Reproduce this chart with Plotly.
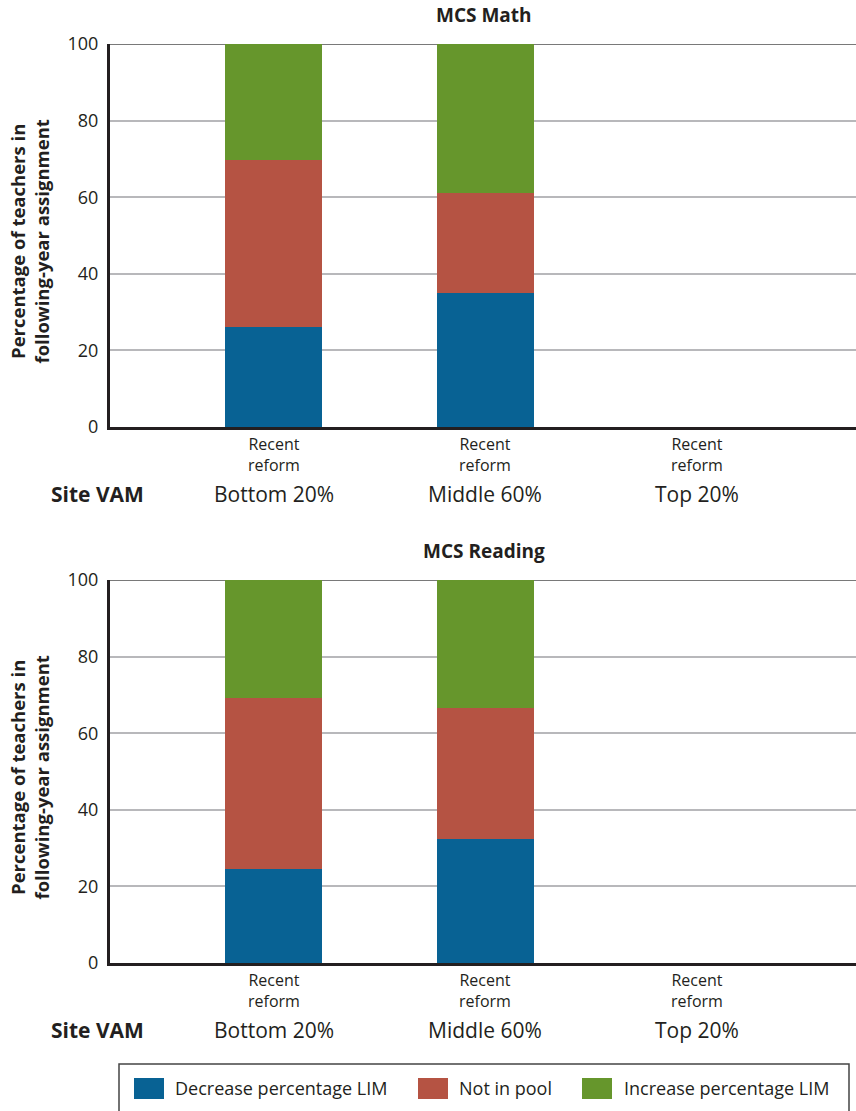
import plotly.graph_objects as go
from plotly.subplots import make_subplots

categories = ["Bottom 20%", "Middle 60%", "Top 20%"]
sub_label = "Recent<br>reform"
series_names = ["Decrease percentage LIM", "Not in pool", "Increase percentage LIM"]
colors = ["#086294", "#B55343", "#66962C"]

math_decrease = [26.1, 34.9, None]
math_not_in_pool = [43.6, 26.2, None]
math_increase = [30.3, 38.9, None]

reading_decrease = [24.5, 32.4, None]
reading_not_in_pool = [44.8, 34.2, None]
reading_increase = [30.7, 33.4, None]

panels = [
    ("MCS Math", [math_decrease, math_not_in_pool, math_increase]),
    ("MCS Reading", [reading_decrease, reading_not_in_pool, reading_increase]),
]

y_ticks = [0, 20, 40, 60, 80, 100]

W, H = 856, 1111
FONT = "Open Sans"
TXT = "#231f20"

fig = make_subplots(rows=2, cols=1)

# pixel layout of each plot area (top, bottom)
plot_px = [(44, 427), (580, 963)]
x_left = 110

def py(p):
    return 1 - p / H

def px(p):
    return p / W

for i, (title, series) in enumerate(panels):
    row = i + 1
    for name, vals, col in zip(series_names, series, colors):
        fig.add_trace(
            go.Bar(x=categories, y=vals, name=name, marker_color=col,
                   marker_line_width=0, width=0.458, showlegend=False),
            row=row, col=1)
    top, bot = plot_px[i]
    xa = "xaxis" if row == 1 else "xaxis2"
    ya = "yaxis" if row == 1 else "yaxis2"
    fig.layout[xa].update(domain=[px(x_left), 1.0], range=[-0.775, 2.752],
                          showticklabels=False, showgrid=False, showline=True,
                          linecolor=TXT, linewidth=3, ticks="", zeroline=False,
                          automargin=False)
    fig.layout[ya].update(domain=[py(bot), py(top)], range=[0, 100],
                          tickvals=y_ticks, showgrid=True, gridcolor="#b8b8bb",
                          gridwidth=1.5, showline=True, linecolor=TXT,
                          linewidth=3, ticks="", ticklabelstandoff=5,
                          tickfont=dict(family=FONT, size=18, color=TXT),
                          zeroline=False, automargin=False)
    xref = "x" if row == 1 else "x2"
    yref = "y" if row == 1 else "y2"
    # dark top line at 100
    fig.add_shape(type="line", xref=xref + " domain", yref=yref, x0=0, x1=1,
                  y0=100, y1=100, line=dict(color="#4d4d4d", width=1.5), layer="below")
    # panel title
    fig.add_annotation(text="<b>" + title + "</b>", xref="paper", yref="paper",
                       x=px(484), y=py(top - 29), xanchor="center", yanchor="middle",
                       showarrow=False, font=dict(family=FONT, size=19, color=TXT))
    # y axis title
    fig.add_annotation(text="<b>Percentage of teachers in<br>following-year assignment</b>",
                       xref="paper", yref="paper", x=px(29), y=py((top + bot) / 2 + 6),
                       xanchor="center", yanchor="middle",
                       textangle=-90, showarrow=False,
                       font=dict(family=FONT, size=18.5, color=TXT))
    for c in categories:
        fig.add_annotation(text=sub_label, xref=xref, yref="paper", x=c,
                           y=py(bot + 27), xanchor="center", yanchor="middle",
                           showarrow=False,
                           font=dict(family=FONT, size=16, color=TXT))
        fig.add_annotation(text=c, xref=xref, yref="paper", x=c,
                           y=py(bot + 67), xanchor="center", yanchor="middle",
                           showarrow=False,
                           font=dict(family=FONT, size=21, color=TXT))
    fig.add_annotation(text="<b>Site VAM</b>", xref="paper", yref="paper",
                       x=px(97), y=py(bot + 67), xanchor="center", yanchor="middle",
                       showarrow=False,
                       font=dict(family=FONT, size=21, color=TXT))

# custom legend box
fig.add_shape(type="rect", xref="paper", yref="paper", x0=px(119), x1=px(849),
              y0=py(1125), y1=py(1064), line=dict(color="#444444", width=1.5),
              fillcolor="white", layer="below")
legend_items = [(134, 173), (418, 457), (582, 622)]
for (sx, tx), name, col in zip(legend_items, series_names, colors):
    fig.add_shape(type="rect", xref="paper", yref="paper", x0=px(sx), x1=px(sx + 30),
                  y0=py(1099), y1=py(1078), line_width=0, fillcolor=col)
    fig.add_annotation(text=name, xref="paper", yref="paper", x=px(tx), y=py(1088),
                       xanchor="left", yanchor="middle", showarrow=False,
                       font=dict(family=FONT, size=18, color=TXT))

fig.update_layout(template="none", width=W, height=H,
                  margin=dict(l=0, r=0, t=0, b=0, pad=0, autoexpand=False),
                  barmode="stack", plot_bgcolor="white", paper_bgcolor="white",
                  bargap=0, font=dict(family=FONT, color=TXT))

fig.write_html("out.html", config={"displayModeBar": False},
               post_script="document.body.style.margin='0';document.body.style.overflow='hidden';")
